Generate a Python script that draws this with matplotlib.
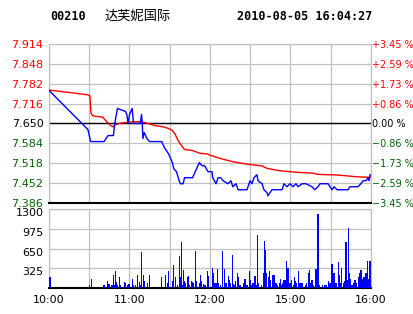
import matplotlib
matplotlib.use('Agg')
import matplotlib.pyplot as plt
import matplotlib.transforms as mtransforms

# header
stock_code = '00210'
stock_name = '达芙妮国际'
stamp = '2010-08-05 16:04:27'

# trading minutes since 10:00 (lunch break removed), 0..240
time_ticks = [0, 30, 60, 90, 120, 150, 180, 210, 240]
time_labels = ['10:00', '', '11:00', '', '12:00', '', '15:00', '', '16:00']

price_ticks = [7.386, 7.452, 7.518, 7.584, 7.650, 7.716, 7.782, 7.848, 7.914]
price_labels = ['7.386', '7.452', '7.518', '7.584', '7.650', '7.716', '7.782', '7.848', '7.914']
pct_labels = ['\u22123.45 %', '\u22122.59 %', '\u22121.73 %', '\u22120.86 %', '0.00 %',
              '+0.86 %', '+1.73 %', '+2.59 %', '+3.45 %']
prev_close = 7.650

vol_ticks = [0, 325, 650, 975, 1300]
vol_labels = ['', '325', '650', '975', '1300']

# last price (blue)
price_t = [0, 29, 31, 41, 44, 48, 49, 51, 57, 58, 59, 60, 62, 63, 68, 69, 69.5, 70, 71, 73,
           75, 84, 86, 89, 92, 93, 95, 97, 98, 100, 101, 107, 110, 112, 114, 116, 118.5,
           121.5, 122, 124.5, 126, 128, 129.7, 133.4, 135.6, 137, 139.4, 140.9, 147.6, 149.8,
           151.3, 152.8, 155, 155.8, 158.8, 160.2, 162.5, 163.2, 164.7, 166.2, 173.7, 175.2,
           177.4, 179.6, 181.9, 184.1, 185.6, 188.6, 191.5, 196, 198, 200.5, 202, 208, 209.4,
           211, 212.4, 214.7, 222.9, 224.3, 226.6, 230.3, 232.5, 234, 236.3, 237.8, 238.5,
           239.3, 240]
price_v = [7.76, 7.63, 7.59, 7.59, 7.61, 7.61, 7.65, 7.70, 7.69, 7.68, 7.65, 7.68, 7.70, 7.65,
           7.65, 7.68, 7.65, 7.60, 7.62, 7.60, 7.59, 7.59, 7.57, 7.55, 7.52, 7.50, 7.49, 7.46,
           7.45, 7.45, 7.47, 7.47, 7.50, 7.52, 7.51, 7.51, 7.49, 7.49, 7.47, 7.45, 7.47, 7.47,
           7.46, 7.45, 7.46, 7.44, 7.45, 7.43, 7.43, 7.46, 7.45, 7.47, 7.48, 7.46, 7.45, 7.43,
           7.42, 7.41, 7.42, 7.43, 7.43, 7.45, 7.44, 7.45, 7.44, 7.45, 7.44, 7.45, 7.45, 7.44,
           7.43, 7.44, 7.45, 7.45, 7.44, 7.43, 7.44, 7.43, 7.43, 7.44, 7.44, 7.44, 7.45, 7.46,
           7.46, 7.47, 7.46, 7.48, 7.48]

# average price (red)
avg_t = [0, 17, 29, 30.5, 31.3, 32.8, 40, 43, 45.5, 47.7, 49, 53, 59, 62.6, 68, 73, 79, 85,
         88.7, 91.7, 94, 96, 99, 101, 107, 112.5, 117.8, 120, 127.5, 137, 147.6, 158.8, 162.5,
         172.2, 184.8, 196.8, 200.5, 214.7, 229.6, 240]
avg_v = [7.761, 7.752, 7.745, 7.741, 7.684, 7.675, 7.671, 7.656, 7.645, 7.639, 7.645, 7.651,
         7.654, 7.656, 7.656, 7.651, 7.643, 7.639, 7.634, 7.628, 7.615, 7.595, 7.575, 7.564,
         7.560, 7.551, 7.549, 7.545, 7.534, 7.523, 7.515, 7.509, 7.501, 7.493, 7.488, 7.485,
         7.481, 7.479, 7.473, 7.471]

# volume per minute
vol_t = [0.7, 30, 31.5, 41, 43.5, 44.3, 45.1, 46.5, 47.2, 48, 48.7, 49.4, 50.2, 50.9, 52.4,
         53.2, 56.1, 56.9, 58.4, 59.1, 59.9, 62.1, 62.9, 64.3, 65.8, 67.3, 68.1, 68.8, 70.3,
         71.1, 73.3, 74.8, 83.7, 86.7, 88.2, 88.9, 91.9, 92.7, 94.2, 95.6, 97.1, 97.9, 98.6,
         99.4, 100.1, 100.9, 101.6, 103.1, 103.8, 104.6, 106.1, 106.8, 107.6, 109.1, 109.8,
         112, 112.8, 113.5, 115, 115.8, 116.5, 118, 118.7, 121.7, 122.5, 123.7, 124.7, 125.5,
         126.2, 128, 129.2, 130.7, 131.4, 132.4, 133.9, 134.7, 135.4, 136.6, 137.6, 138.4,
         139.1, 140.4, 141.1, 141.9, 142.6, 144.8, 146.1, 147.3, 148.1, 149.3, 150.3, 151.1,
         151.8, 152.5, 153.5, 154.8, 155.3, 156.3, 158.5, 160, 160.5, 161.2, 162, 163.5,
         164.2, 165.2, 166.7, 167.7, 169.2, 170.2, 171.7, 172.7, 173.4, 174.2, 175.2, 176.1,
         176.9, 178.1, 178.9, 180.1, 180.9, 182.1, 182.9, 183.9, 184.6, 186.1, 187.1, 187.8,
         188.8, 191.3, 192, 193.3, 194.3, 195, 196, 197, 199, 200, 200.5, 201.5, 204, 205.7,
         207, 208.2, 209.4, 210.9, 211.9, 212.7, 213.7, 214.4, 215.6, 216.4, 217.4, 218.1,
         219.4, 219.9, 220.6, 221.4, 222.1, 223.1, 223.8, 224.6, 225.8, 227.3, 228.1, 229.3,
         230.6, 231.8, 232.5, 233.3, 234.3, 235.5, 236.3, 237.5, 238, 238.8, 239.6]
vol_v = [175, 50, 150, 50, 115, 70, 70, 50, 50, 220, 50, 275, 100, 50, 175,
         50, 100, 80, 50, 65, 65, 150, 50, 50, 210, 100, 50, 585, 220,
         115, 80, 220, 175, 210, 90, 285, 115, 385, 175, 50, 520, 175, 750,
         50, 300, 115, 80, 175, 190, 50, 110, 95, 75, 615, 110,
         80, 210, 110, 65, 50, 50, 285, 190, 330, 240, 80, 80, 315,
         80, 50, 615, 315, 80, 80, 200, 135, 80, 550, 70, 50,
         110, 240, 180, 50, 50, 90, 150, 50, 50, 275, 135, 50,
         90, 90, 190, 50, 880, 80, 50, 250, 770, 620, 250, 180,
         275, 135, 220, 220, 80, 50, 80, 150, 50, 80, 135, 135,
         450, 330, 80, 80, 135, 50, 180, 110, 80, 275, 80, 80,
         80, 50, 80, 240, 300, 80, 135, 50, 315, 80, 1220, 50, 50, 50,
         50, 110, 80, 395, 240, 240, 80, 80, 420, 220, 80, 330,
         80, 80, 110, 750, 135, 990, 240, 150, 50, 80, 135, 80,
         180, 250, 300, 150, 180, 180, 250, 450, 150, 440, 440]

red = '#ff0000'
green = '#006400'
blue = '#0000ff'
grid_c = '#c0c0c0'

plt.rcParams['font.family'] = ['DejaVu Sans']

W, H = 414, 314
fig = plt.figure(figsize=(W / 100, H / 100), dpi=100)
fig.patch.set_facecolor('white')

ax = fig.add_axes([49 / W, 1 - 203 / H, 322 / W, 159 / H])
axv = fig.add_axes([49 / W, 1 - 288 / H, 322 / W, 79 / H])

def label_color(p):
    if p > prev_close + 1e-6:
        return red
    elif p < prev_close - 1e-6:
        return green
    return 'black'

## price panel
ax.plot(avg_t, avg_v, color=red, linewidth=1.0, zorder=3)
ax.plot(price_t, price_v, color=blue, linewidth=1.0, zorder=4)
ax.axhline(prev_close, color='black', linewidth=1.0, zorder=2)
ax.set_xlim(0, 240)
ax.set_ylim(price_ticks[0], price_ticks[-1])
ax.set_xticks(time_ticks)
ax.set_xticklabels([])
ax.set_yticks(price_ticks)
ax.set_yticklabels(price_labels, fontsize=8)
for lab, p in zip(ax.get_yticklabels(), price_ticks):
    lab.set_color(label_color(p))
ax.tick_params(length=0, pad=4)
ax.grid(color=grid_c, linewidth=0.9)
ax.set_axisbelow(True)
for s in ['top', 'left', 'right']:
    ax.spines[s].set_color(grid_c)
    ax.spines[s].set_linewidth(0.9)
ax.spines['bottom'].set_color('black')
ax.spines['bottom'].set_linewidth(1.5)

ax2 = ax.twinx()
ax2.set_ylim(price_ticks[0], price_ticks[-1])
ax2.set_yticks(price_ticks)
ax2.set_yticklabels(pct_labels, fontsize=7)
for lab, p in zip(ax2.get_yticklabels(), price_ticks):
    lab.set_color(label_color(p))
ax2.tick_params(length=0, pad=0.5)
for s in ax2.spines.values():
    s.set_visible(False)

## volume panel
axv.bar(vol_t, vol_v, width=1.0, color=blue, linewidth=0, zorder=3)
axv.set_xlim(0, 240)
axv.set_ylim(0, 1300)
axv.set_xticks(time_ticks)
axv.set_xticklabels(time_labels, fontsize=8)
axv.set_yticks(vol_ticks)
axv.set_yticklabels(vol_labels, fontsize=8)
axv.tick_params(length=0, pad=4)
axv.tick_params(axis='x', pad=5)
offset = mtransforms.ScaledTranslation(0, -3 / 100, fig.dpi_scale_trans)
for lab in axv.get_yticklabels():
    lab.set_transform(lab.get_transform() + offset)
axv.grid(color=grid_c, linewidth=0.9)
axv.set_axisbelow(True)
for s in ['top', 'left', 'right']:
    axv.spines[s].set_color(grid_c)
    axv.spines[s].set_linewidth(0.9)
axv.spines['bottom'].set_color('black')
axv.spines['bottom'].set_linewidth(1.5)

## header
fig.text(50 / W, 1 - 17 / H, stock_code, family='DejaVu Sans Mono', weight='bold',
         fontsize=8.5, va='center', ha='left')
fig.text(104 / W, 1 - 16 / H, stock_name, family=['Noto Sans CJK SC', 'DejaVu Sans'],
         fontsize=9.5, va='center', ha='left')
fig.text(237 / W, 1 - 17 / H, stamp, family='DejaVu Sans Mono', weight='bold',
         fontsize=8.5, va='center', ha='left')

plt.savefig('out.png', dpi=100)
